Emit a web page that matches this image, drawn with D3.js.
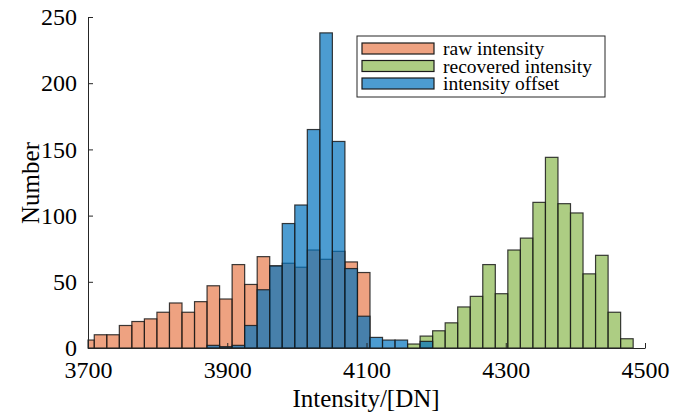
<!DOCTYPE html>
<meta charset="utf-8">
<style>
body { margin: 0; background: #fff; }
svg text { font-family: "Liberation Serif", "Times New Roman", serif; fill: #000; }
.axis path, .axis line { stroke: #262626; }
</style>
<svg width="692" height="414"></svg>
<script src="https://d3js.org/d3.v7.min.js"></script>
<script>

// bins: left edge = binStart + k*binWidth
var binStart = 3691,
    binWidth = 18;

// counts per bin
var rawCounts = [6, 10, 10, 17, 20, 22, 27, 34, 27, 35, 47, 37, 63, 48, 69, 62, 64, 61, 74, 67, 73, 65, 57];

var offsetCounts = [0, 0, 0, 0, 0, 0, 0, 0, 0, 0, 2, 1, 2, 17, 44, 62, 94, 108, 165, 238, 156, 60, 24, 8, 6, 6, 0, 5];

var recoveredCounts = [0, 0, 0, 0, 0, 0, 0, 0, 0, 0, 0, 0, 0, 0, 0, 0, 0, 0, 0, 0, 0, 0, 0, 0, 0, 0,
  3, 9, 13, 19, 31, 39, 63, 41, 74, 83, 110, 144, 109, 102, 56, 70, 27, 7];

var xTicks = [3700, 3900, 4100, 4300, 4500];
var yTicks = [0, 50, 100, 150, 200, 250];

var seriesNames = ["raw intensity", "recovered intensity", "intensity offset"];
var seriesColors = ["#E0561A", "#77AC30", "#0072BD"];
var seriesAlpha = [0.55, 0.6, 0.7];

var svg = d3.select("svg");

var x = d3.scaleLinear().domain([3700, 4500]).range([88, 645]);
var y = d3.scaleLinear().domain([0, 250]).range([348, 17]);

function toBins(counts) {
  var out = [];
  counts.forEach(function(c, k) {
    if (c > 0) {
      var x0 = Math.max(binStart + k * binWidth, 3700);
      out.push({x0: x0, x1: binStart + (k + 1) * binWidth, n: c});
    }
  });
  return out;
}

var allSeries = [rawCounts, recoveredCounts, offsetCounts];

allSeries.forEach(function(counts, i) {
  svg.append("g")
    .selectAll("rect")
    .data(toBins(counts))
    .enter().append("rect")
      .attr("x", function(d) { return x(d.x0); })
      .attr("y", function(d) { return y(d.n); })
      .attr("width", function(d) { return x(d.x1) - x(d.x0); })
      .attr("height", function(d) { return y(0) - y(d.n); })
      .attr("fill", seriesColors[i])
      .attr("fill-opacity", seriesAlpha[i])
      .attr("stroke", "#1a1a1a")
      .attr("stroke-opacity", 0.85)
      .attr("stroke-width", 1.2);
});

// axes, ticks inward like matlab
var xAxis = svg.append("g")
  .attr("class", "axis")
  .attr("transform", "translate(0," + y(0) + ")")
  .call(d3.axisBottom(x).tickValues(xTicks).tickFormat(d3.format("d"))
    .tickSizeInner(-5).tickSizeOuter(0).tickPadding(13));

var yAxis = svg.append("g")
  .attr("class", "axis")
  .attr("transform", "translate(" + x(3700) + ",0)")
  .call(d3.axisLeft(y).tickValues(yTicks).tickFormat(d3.format("d"))
    .tickSizeInner(-5).tickSizeOuter(0).tickPadding(11));

svg.selectAll(".axis")
  .attr("font-family", "Liberation Serif, Times New Roman, serif")
  .attr("font-size", 24);
svg.selectAll(".axis text").attr("fill", "#000");
svg.selectAll(".axis .domain").attr("stroke-width", 1);

svg.append("text")
  .attr("x", 366)
  .attr("y", 407)
  .attr("text-anchor", "middle")
  .style("font-size", "25px")
  .text("Intensity/[DN]");

svg.append("text")
  .attr("transform", "translate(39,183) rotate(-90)")
  .attr("text-anchor", "middle")
  .style("font-size", "25px")
  .text("Number");

// legend
var legend = svg.append("g").attr("transform", "translate(357,36)");
legend.append("rect")
  .attr("width", 248).attr("height", 61)
  .attr("fill", "#fff").attr("stroke", "#262626").attr("stroke-width", 1);

seriesNames.forEach(function(name, i) {
  var row = legend.append("g").attr("transform", "translate(0," + (7 + i * 17.5) + ")");
  row.append("rect")
    .attr("x", 5).attr("width", 72).attr("height", 11)
    .attr("fill", seriesColors[i]).attr("fill-opacity", seriesAlpha[i])
    .attr("stroke", "#1a1a1a").attr("stroke-width", 1.2);
  row.append("text")
    .attr("x", 86).attr("y", 12)
    .style("font-size", "19.5px")
    .text(name);
});

</script>
